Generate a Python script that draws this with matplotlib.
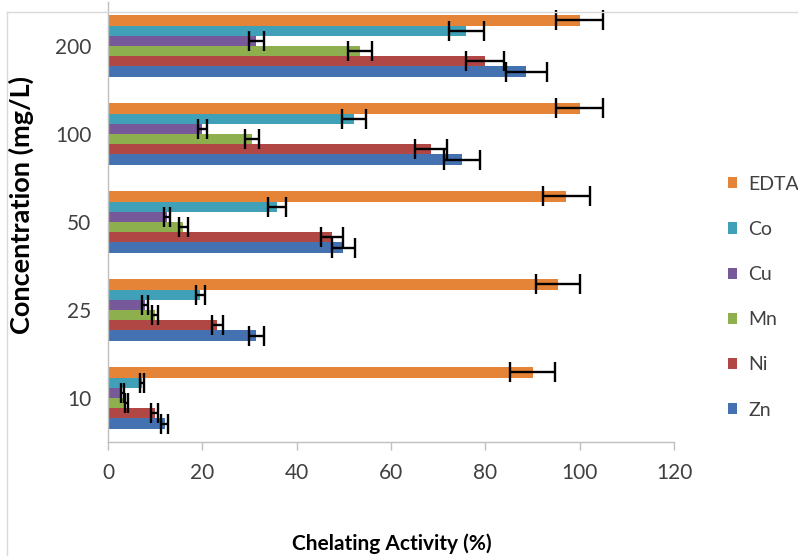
import numpy as np
import matplotlib
matplotlib.use('Agg')
from matplotlib import pyplot as plt
from matplotlib.lines import Line2D

plt.rcParams['font.family'] = ['Lato', 'DejaVu Sans']

# concentrations (mg/L) on the category axis
conc = ['10', '25', '50', '100', '200']

# chelating activity (%) and error per metal, one value per concentration
zn = [12.0, 31.4, 49.9, 75.1, 88.7]
zn_err = [0.7, 1.6, 2.5, 3.8, 4.4]
ni = [9.9, 23.2, 47.5, 68.5, 80.0]
ni_err = [0.7, 1.2, 2.4, 3.4, 4.0]
mn = [3.9, 10.0, 16.0, 30.6, 53.4]
mn_err = [0.3, 0.7, 0.9, 1.5, 2.6]
cu = [3.0, 7.9, 12.5, 20.0, 31.4]
cu_err = [0.3, 0.6, 0.7, 1.0, 1.6]
co = [7.2, 19.6, 35.9, 52.2, 76.0]
co_err = [0.5, 1.0, 1.9, 2.6, 3.8]
edta = [90.0, 95.4, 97.2, 100.0, 100.0]
edta_err = [4.7, 4.7, 4.9, 5.0, 5.0]

names = ['Zn', 'Ni', 'Mn', 'Cu', 'Co', 'EDTA']
vals = [zn, ni, mn, cu, co, edta]
errs = [zn_err, ni_err, mn_err, cu_err, co_err, edta_err]
colors = ['#4472B0', '#B14744', '#8DAF4E', '#77599A', '#3FA0B8', '#E58337']

fig = plt.figure(figsize=(7.98, 5.56), dpi=100)
ax = fig.add_axes([108 / 798, 1 - 442 / 556, 566 / 798, 440 / 556])

y = np.arange(len(conc))
h = 0.116
for i in range(len(names)):
    pos = y - 2.5 * h + i * h
    ax.barh(pos, vals[i], height=h, color=colors[i], label=names[i],
            xerr=errs[i], ecolor='black',
            error_kw=dict(elinewidth=1.7, capsize=7.5, capthick=1.7))

ax.set_xlim(0, 120)
ax.set_ylim(-0.5, 4.5)
ax.set_xticks(range(0, 121, 20))
ax.set_yticks(y)
ax.set_yticklabels(conc)
ax.tick_params(axis='x', length=6, width=1, color='#BFBFBF', pad=9,
               labelsize=15, labelcolor='#404040')
ax.tick_params(axis='y', length=0, pad=12, labelsize=15, labelcolor='#404040')
for s in ['top', 'right']:
    ax.spines[s].set_visible(False)
for s in ['left', 'bottom']:
    ax.spines[s].set_color('#BFBFBF')
    ax.spines[s].set_linewidth(1)

fig.text(21 / 798, 1 - 205 / 556, 'Concentration (mg/L)', fontsize=19.5,
         fontweight='bold', rotation=90, ha='center', va='center')
fig.text(392 / 798, 1 - 544 / 556, 'Chelating Activity (%)', fontsize=15,
         fontweight='bold', ha='center', va='center')

# outer chart frame
fig.add_artist(Line2D([7 / 798, 1], [1 - 12 / 556, 1 - 12 / 556], color='#D9D9D9', lw=1))
fig.add_artist(Line2D([7 / 798, 7 / 798], [0, 1 - 12 / 556], color='#D9D9D9', lw=1))

handles, labels = ax.get_legend_handles_labels()
ax.legend(handles[::-1], labels[::-1], loc='upper left',
          bbox_to_anchor=(718 / 798, 1 - 166 / 556), bbox_transform=fig.transFigure,
          frameon=False, fontsize=14, handlelength=0.5, handleheight=0.5,
          handletextpad=0.55, labelspacing=1.45, borderpad=0, labelcolor='#404040')

fig.savefig('out.png', dpi=100)
